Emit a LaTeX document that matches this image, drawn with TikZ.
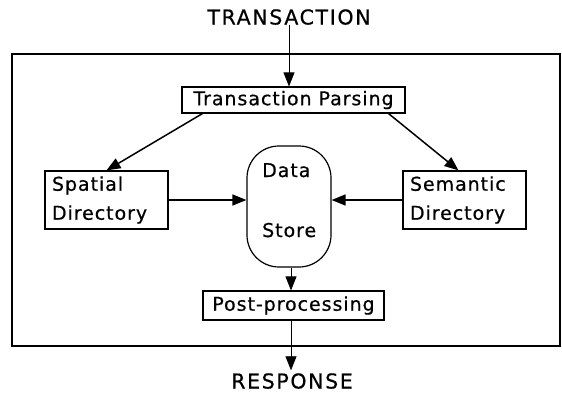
\documentclass[tikz,border=0pt]{standalone}
\usepackage{fontspec}
\setmainfont[LetterSpace=5,FakeBold=0.6]{DejaVu Sans}
\newfontfamily\capsfont[LetterSpace=8,FakeBold=0.6]{DejaVu Sans}
\usetikzlibrary{arrows.meta}
\tikzset{
  lbl/.style={font=\fontsize{19}{23}\selectfont, inner sep=0pt},
  caps/.style={font=\capsfont\fontsize{20.5}{24}\selectfont, inner sep=0pt, text height=15pt, text depth=0pt},
  box/.style={draw, line width=1.2pt, lbl, inner xsep=7pt, anchor=center},
  tip/.style={-{Triangle[length=14pt,width=11pt]}},
  conn/.style={tip, line width=1.5pt},
  thinconn/.style={tip, line width=0.8pt}
}
\begin{document}
\begin{tikzpicture}[x=1pt,y=-1pt]
\useasboundingbox (0,0) rectangle (562,394);
% outer frame
\draw[line width=1.7pt] (12,54) rectangle (560,346);
% nodes
\node[caps] (trans) at (289,17) {TRANSACTION};
\node[box, minimum width=223pt, minimum height=26pt] (parse) at (293.5,100) {Transaction Parsing};
\node[box, minimum width=123pt, minimum height=58pt, text width=109pt, align=left] (spatial) at (106.5,200) {Spatial\\[6pt]Directory};
\node[box, minimum width=123pt, minimum height=58pt, text width=109pt, align=left] (semantic) at (464.5,200) {Semantic\\[6pt]Directory};
\node[box, rounded corners=32pt, minimum width=84pt, minimum height=121pt] (data) at (289,206.5) {};
\node[lbl, anchor=base west] (datatxt) at (262,177) {Data};
\node[lbl, anchor=base west] (storetxt) at (262,237) {Store};
\node[box, minimum width=181pt, minimum height=29pt] (post) at (293.5,305.5) {Post-processing};
\node[caps] (resp) at (292,381) {RESPONSE};
% connectors
\draw[thinconn] (trans.south) -- (trans.south |- parse.north);
\draw[conn] ([xshift=21pt]parse.south west) -- (spatial.north);
\draw[conn] ([xshift=-17pt]parse.south east) -- ([xshift=-6pt]semantic.north);
\draw[conn] (spatial.east) -- (spatial.east -| data.west);
\draw[conn] (semantic.west) -- (semantic.west -| data.east);
\draw[thinconn] ([xshift=2pt]data.south) -- ([xshift=2pt]data.south |- post.north);
\draw[thinconn] ([xshift=2pt]data.south |- post.south) -- ([xshift=2pt,yshift=3pt]data.south |- resp.north);
\end{tikzpicture}
\end{document}
